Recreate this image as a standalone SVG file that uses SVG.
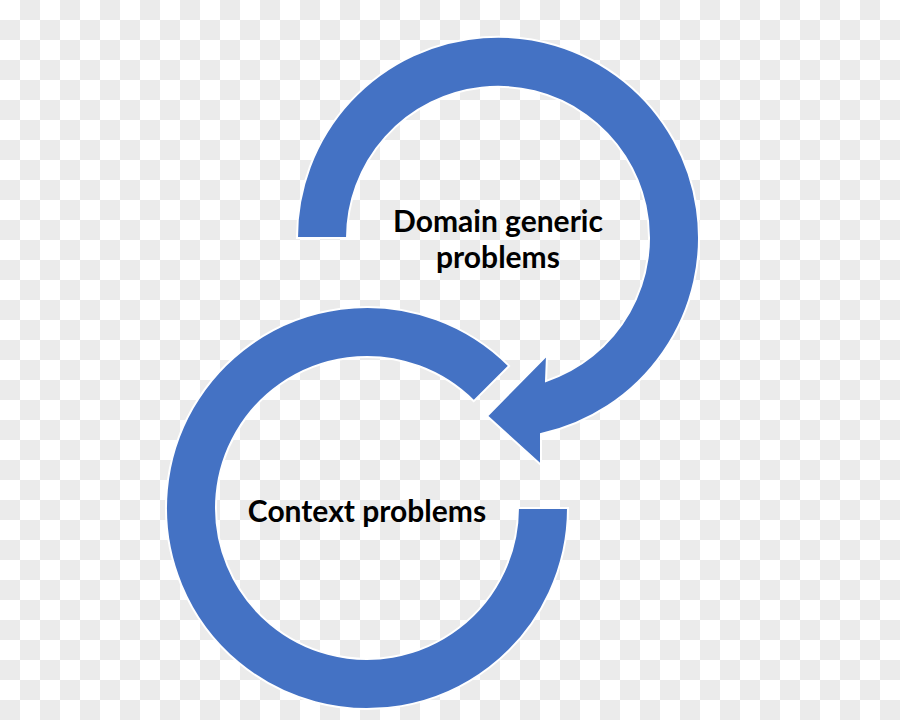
<svg xmlns="http://www.w3.org/2000/svg" width="900" height="720" viewBox="0 0 900 720">
  <defs>
    <pattern id="checker" x="0" y="0" width="40" height="40" patternUnits="userSpaceOnUse">
      <rect width="40" height="40" fill="#ffffff"/>
      <rect x="20" y="0" width="20" height="20" fill="#ebebeb"/>
      <rect x="0" y="20" width="20" height="20" fill="#ebebeb"/>
    </pattern>
    <style>
      .ring { fill: #4472C4; stroke: #ffffff; stroke-width: 2; stroke-linejoin: miter; }
      .label { font-family: "Lato", "Open Sans", "Liberation Sans", sans-serif; font-weight: bold; font-size: 30px; fill: #000000; text-anchor: middle; }
    </style>
  </defs>
  <rect width="900" height="720" fill="url(#checker)"/>
  <g id="connectors">
    <path id="arrow-top" class="ring" d="M297,238 A201,201 0 1 1 541,434 L541,465 L487,416 L547,355 L546,381 A151,151 0 1 0 347,238 Z"/>
    <path id="arc-bottom" class="ring" d="M568,508 A201,201 0 1 1 509.1,365.9 L473.8,401.2 A151,151 0 1 0 518,508 Z"/>
  </g>
  <g id="node-domain">
    <text class="label" x="498" y="232">Domain generic</text>
    <text class="label" x="498" y="268">problems</text>
  </g>
  <g id="node-context">
    <text class="label" x="367" y="522">Context problems</text>
  </g>
</svg>
